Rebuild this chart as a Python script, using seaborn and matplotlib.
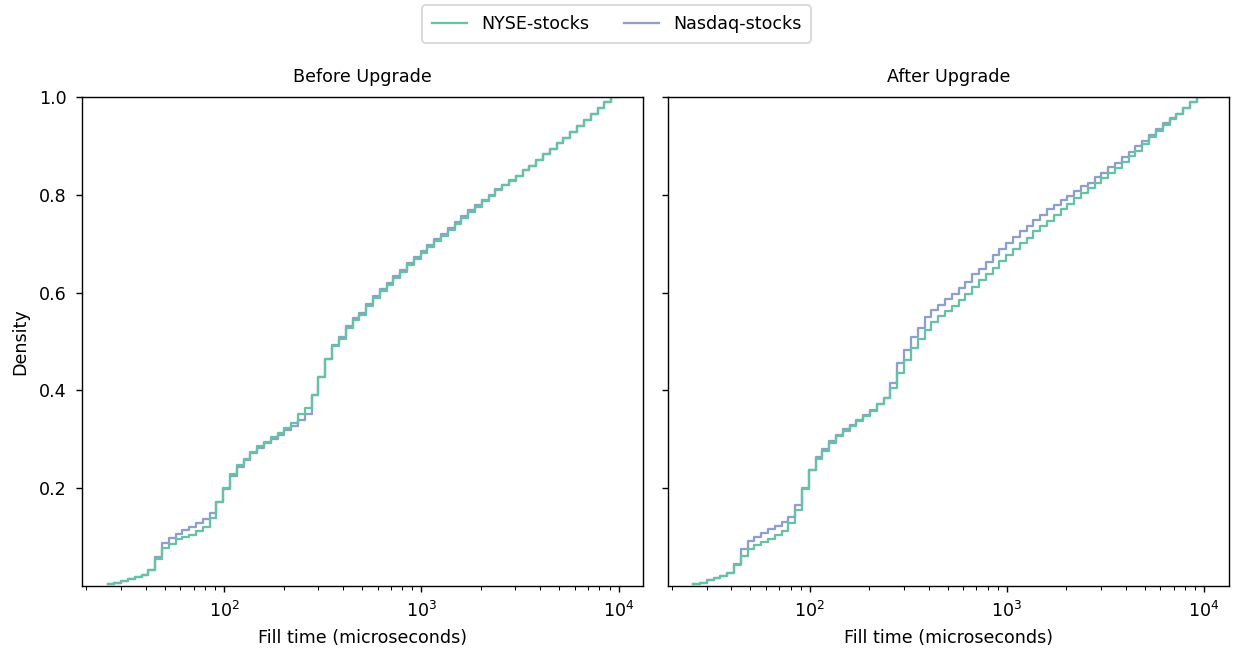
import numpy as np
import pandas as pd
import matplotlib
matplotlib.use("Agg")
import matplotlib.pyplot as plt
import seaborn as sns
from matplotlib.lines import Line2D

# ---------------- data ----------------
markets = ["NYSE-stocks", "Nasdaq-stocks"]
panels = ["Before Upgrade", "After Upgrade"]
colors = ["#66c2a5", "#8da0cb"]

# histogram bins in log10(microseconds)
log_min, log_max, n_bins = 1.408, 3.997, 75

# cumulative share per bin
nyse_before = [
    0.004, 0.007, 0.010, 0.014, 0.019, 0.022, 0.033, 0.056, 0.077, 0.085,
    0.096, 0.101, 0.105, 0.113, 0.121, 0.138, 0.172, 0.201, 0.230, 0.247,
    0.260, 0.274, 0.286, 0.295, 0.304, 0.313, 0.324, 0.334, 0.352, 0.364,
    0.390, 0.428, 0.464, 0.490, 0.506, 0.528, 0.543, 0.555, 0.572, 0.588,
    0.603, 0.616, 0.630, 0.643, 0.656, 0.669, 0.681, 0.694, 0.705, 0.716,
    0.728, 0.740, 0.752, 0.765, 0.776, 0.788, 0.798, 0.809, 0.819, 0.829,
    0.839, 0.850, 0.859, 0.871, 0.883, 0.893, 0.905, 0.917, 0.929, 0.941,
    0.953, 0.965, 0.977, 0.989, 1.000,
]
nasdaq_before = [
    0.004, 0.007, 0.010, 0.014, 0.019, 0.022, 0.033, 0.060, 0.087, 0.099,
    0.107, 0.115, 0.121, 0.128, 0.136, 0.149, 0.172, 0.199, 0.225, 0.243,
    0.257, 0.271, 0.282, 0.292, 0.300, 0.308, 0.318, 0.327, 0.340, 0.352,
    0.390, 0.428, 0.464, 0.492, 0.510, 0.532, 0.547, 0.559, 0.576, 0.592,
    0.607, 0.620, 0.634, 0.647, 0.660, 0.673, 0.685, 0.698, 0.709, 0.720,
    0.732, 0.744, 0.756, 0.768, 0.779, 0.790, 0.800, 0.811, 0.820, 0.830,
    0.839, 0.850, 0.859, 0.871, 0.883, 0.893, 0.905, 0.917, 0.929, 0.941,
    0.953, 0.965, 0.977, 0.989, 1.000,
]
nyse_after = [
    0.004, 0.007, 0.012, 0.016, 0.021, 0.026, 0.042, 0.061, 0.075, 0.083,
    0.090, 0.097, 0.104, 0.112, 0.128, 0.155, 0.198, 0.238, 0.260, 0.277,
    0.293, 0.306, 0.317, 0.327, 0.337, 0.347, 0.357, 0.373, 0.385, 0.405,
    0.436, 0.462, 0.487, 0.505, 0.524, 0.540, 0.552, 0.562, 0.573, 0.585,
    0.598, 0.611, 0.626, 0.639, 0.650, 0.664, 0.676, 0.689, 0.701, 0.712,
    0.725, 0.737, 0.747, 0.759, 0.771, 0.781, 0.793, 0.803, 0.814, 0.824,
    0.834, 0.844, 0.854, 0.868, 0.880, 0.890, 0.904, 0.918, 0.931, 0.943,
    0.954, 0.965, 0.977, 0.989, 1.000,
]
nasdaq_after = [
    0.004, 0.007, 0.012, 0.016, 0.021, 0.026, 0.044, 0.075, 0.091, 0.100,
    0.108, 0.116, 0.123, 0.131, 0.142, 0.165, 0.201, 0.238, 0.263, 0.280,
    0.296, 0.309, 0.320, 0.330, 0.339, 0.349, 0.359, 0.373, 0.385, 0.415,
    0.455, 0.483, 0.509, 0.528, 0.551, 0.564, 0.575, 0.587, 0.598, 0.609,
    0.621, 0.637, 0.649, 0.662, 0.676, 0.689, 0.701, 0.713, 0.725, 0.737,
    0.749, 0.759, 0.771, 0.780, 0.790, 0.798, 0.808, 0.817, 0.825, 0.836,
    0.845, 0.856, 0.866, 0.877, 0.888, 0.899, 0.910, 0.922, 0.934, 0.946,
    0.956, 0.966, 0.977, 0.989, 1.000,
]

y_ticks = [0.2, 0.4, 0.6, 0.8, 1.0]

# ---------------- build long table ----------------
bin_w = (log_max - log_min) / n_bins
fill_time = 10 ** (log_min + (np.arange(n_bins) + 0.5) * bin_w)

frames = []
for panel, series in zip(panels, [(nyse_before, nasdaq_before), (nyse_after, nasdaq_after)]):
    for m, cum in zip(markets, series):
        w = np.diff(np.concatenate([[0.0], np.asarray(cum, dtype=float)]))
        frames.append(pd.DataFrame({"panel": panel, "market": m,
                                    "fill_time": fill_time, "weight": w}))
df = pd.concat(frames, ignore_index=True)

# ---------------- plot ----------------
DPI = 126
fig, axes = plt.subplots(1, 2, figsize=(1233 / DPI, 650 / DPI), dpi=DPI,
                         sharey=True, sharex=True)
fig.subplots_adjust(left=0.0665, right=0.9968, bottom=0.0985, top=0.8508, wspace=0.043)

pal = dict(zip(markets, colors))
for ax, panel in zip(axes, panels):
    sub = df[df["panel"] == panel]
    sns.histplot(data=sub, x="fill_time", weights="weight", hue="market",
                 hue_order=markets, palette=pal, bins=n_bins,
                 binrange=(log_min, log_max), log_scale=True, cumulative=True,
                 element="step", fill=False, stat="density", common_norm=False,
                 linewidth=1.3, legend=False, ax=ax)
    ax.set_title(panel, fontsize=10, pad=8.3)
    ax.set_xlabel("Fill time (microseconds)", labelpad=4.6)
    ax.tick_params(axis="both", which="major", pad=5)

axes[0].set_ylim(0.0, 1.0)
axes[0].set_yticks(y_ticks)
axes[0].set_ylabel("Density", labelpad=6)
axes[1].set_ylabel("")

handles = [Line2D([0], [0], color=c, lw=1.3) for c in colors]
fig.legend(handles, markets, loc="upper center", ncol=2,
           bbox_to_anchor=(0.5, 1.0), borderaxespad=0.3, borderpad=0.55,
           frameon=True)

fig.savefig("out.png", dpi=DPI)
